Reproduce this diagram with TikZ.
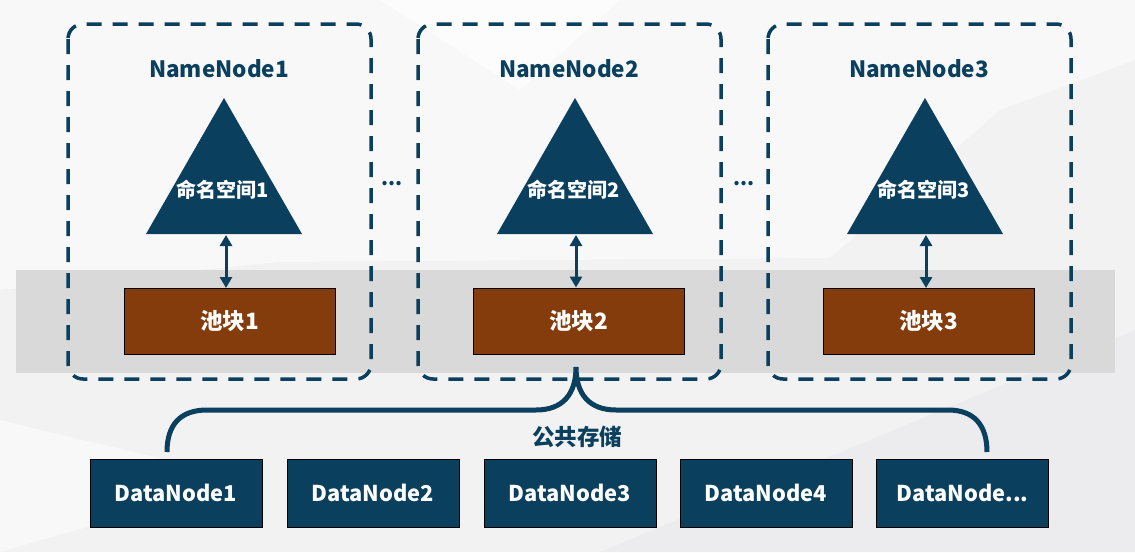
\documentclass[tikz,border=0pt]{standalone}
\usepackage{fontspec}
\setmainfont{Noto Sans CJK SC}
\usetikzlibrary{arrows.meta}
\definecolor{navy}{HTML}{0B3F5E}
\definecolor{pool}{HTML}{843C0C}
\definecolor{band}{HTML}{D9D9D9}
\definecolor{bgA}{HTML}{F2F2F3}
\definecolor{bgB}{HTML}{F8F8F9}
\definecolor{bgC}{HTML}{ECECEE}
\tikzset{
  nnbox/.style={draw=navy, line width=3.5pt, dash pattern=on 15pt off 11pt, rounded corners=15pt},
  nntitle/.style={text=navy, font=\fontsize{22.5}{26}\selectfont\bfseries},
  tri/.style={fill=navy},
  trilabel/.style={text=white, font=\fontsize{20}{23}\selectfont\bfseries},
  poolbox/.style={draw=black, line width=1pt, fill=pool, text=white, minimum width=211pt, minimum height=66pt, inner sep=0pt, font=\fontsize{22.5}{26}\selectfont\bfseries},
  dnbox/.style={draw=black, line width=1pt, fill=navy, text=white, minimum width=172pt, minimum height=68pt, inner sep=0pt, font=\fontsize{21.8}{25}\selectfont\bfseries},
  dbl/.style={draw=navy, line width=3pt, {Triangle[width=12pt,length=11pt]}-{Triangle[width=12pt,length=11pt]}},
  brace/.style={draw=navy, line width=5pt},
  dots/.style={text=navy, font=\fontsize{20}{22}\selectfont\bfseries}
}
\begin{document}
\begin{tikzpicture}[x=1pt, y=-1pt]
\useasboundingbox (0,0) rectangle (1135,552);
% background
\fill[bgA] (0,0) rectangle (1135,552);
\fill[bgB] (0,0) -- (1135,0) -- (1135,60) -- (1000,110) -- (830,258) -- (280,262) -- (0,290) -- cycle;
\fill[bgC] (600,552) -- (1135,330) -- (1135,552) -- cycle;
\fill[bgB] (0,420) -- (250,480) -- (0,552) -- cycle;
\fill[white!60!bgB] (380,0) -- (620,0) -- (520,90) -- cycle;
% gray band
\fill[band] (16,270) rectangle (1115,373);
% dashed NameNode boxes
\draw[nnbox] (68,24) rectangle (371,379);
\draw[nnbox] (418,24) rectangle (721,379);
\draw[nnbox] (768,24) rectangle (1071,379);
% titles
\node[nntitle] (nn1) at (219,69) {NameNode1};
\node[nntitle] (nn2) at (569,69) {NameNode2};
\node[nntitle] (nn3) at (919,69) {NameNode3};
% triangles
\fill[tri] (224,98) -- (302,234) -- (146,234) -- cycle;
\fill[tri] (575,98) -- (653,234) -- (497,234) -- cycle;
\fill[tri] (925,98) -- (1003,234) -- (847,234) -- cycle;
\node[trilabel] (ns1) at (223,190) {命名空间1};
\node[trilabel] (ns2) at (574,190) {命名空间2};
\node[trilabel] (ns3) at (924,190) {命名空间3};
\coordinate (t1) at (226,235);
\coordinate (t2) at (576,235);
\coordinate (t3) at (926,235);
% dots
\node[dots] (d1) at (392,184) {...};
\node[dots] (d2) at (744,184) {...};
% pools
\node[poolbox] (p1) at (229.5,321.5) {池块1};
\node[poolbox] (p2) at (578.5,321) {池块2};
\node[poolbox] (p3) at (928.5,321.5) {池块3};
\draw[dbl] (t1) -- (t1 |- p1.north);
\draw[dbl] (t2) -- (t2 |- p2.north);
\draw[dbl] (t3) -- (t3 |- p3.north);
% datanodes
\node[dnbox] (dn1) at (176,493) {DataNode1};
\node[dnbox] (dn2) at (373,493) {DataNode2};
\node[dnbox] (dn3) at (570,493) {DataNode3};
\node[dnbox] (dn4) at (766,493) {DataNode4};
\node[dnbox] (dn5) at (962.5,493) {DataNode...};
% brace
\coordinate (bl) at (167,452);
\coordinate (bt) at (576,367);
\coordinate (br) at (987,452);
\draw[brace] (bl) .. controls (167,425) and (180,410) .. (207,410) -- (536,410)
  .. controls (562,410) and (576,395) .. (bt)
  .. controls (576,395) and (590,410) .. (616,410) -- (948,410)
  .. controls (974,410) and (987,425) .. (br);
\node[text=navy, font=\fontsize{22.5}{25}\selectfont\bfseries] (gs) at (577,437) {公共存储};
\end{tikzpicture}
\end{document}
